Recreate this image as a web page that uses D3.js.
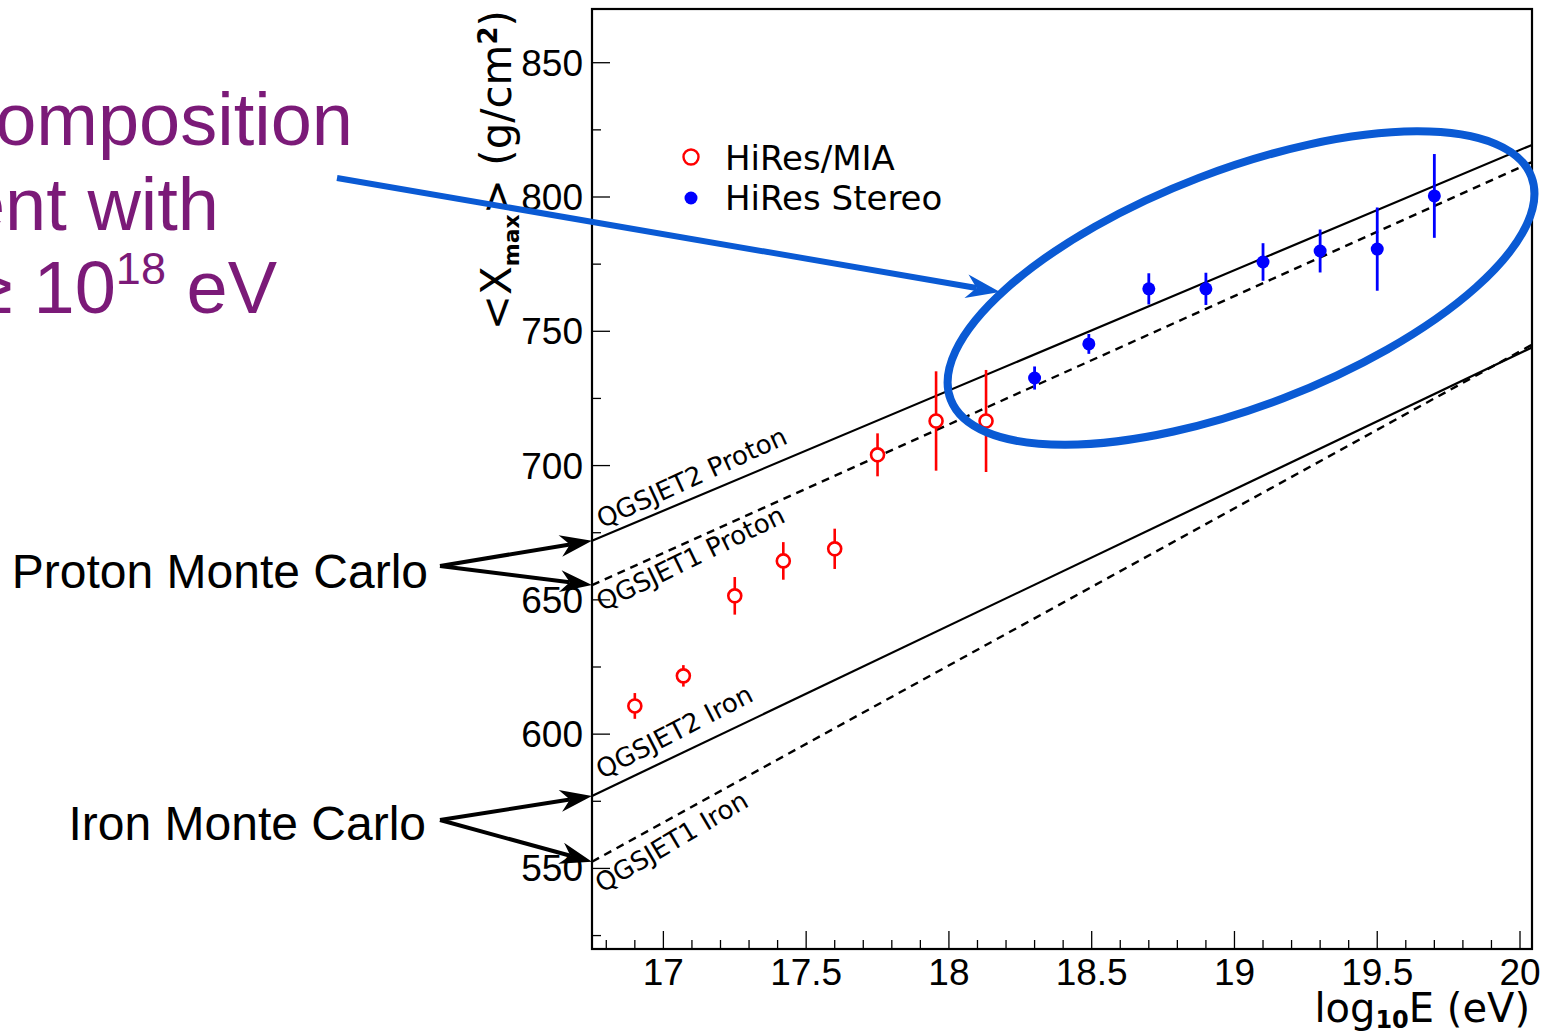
<!DOCTYPE html>
<html>
<head>
<meta charset="utf-8">
<script src="https://cdn.jsdelivr.net/npm/d3@7"></script>
<style>
  html, body { margin: 0; padding: 0; background: #fff; overflow: hidden; }
  svg { display: block; }
  .tick-label { font-family: "Liberation Sans", Arial, sans-serif; font-size: 37px; fill: #000; }
  .title { font-family: "DejaVu Sans", sans-serif; fill: #000; }
  .note { font-family: "Liberation Sans", Arial, sans-serif; }
</style>
</head>
<body>
<svg id="chart" width="1541" height="1035"></svg>
<script>
// HiRes/MIA (open red circles)
const miaLogE = [16.90, 17.07, 17.25, 17.42, 17.60, 17.75, 17.955, 18.13];
const miaXmax = [610.5, 621.7, 651.5, 664.5, 669.0, 704.0, 716.6, 716.6];
const miaErr  = [4.8, 4.0, 7.0, 7.0, 7.5, 8.0, 18.5, 19.0];

// HiRes Stereo (filled blue circles)
const stereoLogE = [18.30, 18.49, 18.70, 18.90, 19.10, 19.30, 19.50, 19.70];
const stereoXmax = [732.6, 745.3, 765.8, 765.8, 775.8, 779.9, 780.6, 800.4];
const stereoErr  = [4.3, 3.7, 5.8, 6.0, 7.0, 8.0, 15.5, 15.6];

// Monte Carlo predictions, values at the two ends of the x range
const modelNames = ['QGSJET2 Proton', 'QGSJET1 Proton', 'QGSJET2 Iron', 'QGSJET1 Iron'];
const modelEnds  = [16.75, 20.042];
const modelXmax  = [[672.0, 819.4], [655.5, 813.0], [577.0, 744.0], [552.5, 745.0]];
const modelDash  = [false, true, false, true];

const xTickValues = [17, 17.5, 18, 18.5, 19, 19.5, 20];
const yTickValues = [550, 600, 650, 700, 750, 800, 850];

const svg = d3.select('#chart');
const frame = { left: 592, right: 1532, top: 9, bottom: 949 };

const x = d3.scaleLinear().domain([16.75, 20.042]).range([frame.left, frame.right]);
const y = d3.scaleLinear().domain([520, 870]).range([frame.bottom, frame.top]);

// frame
svg.append('rect')
  .attr('x', frame.left).attr('y', frame.top)
  .attr('width', frame.right - frame.left).attr('height', frame.bottom - frame.top)
  .attr('fill', 'none').attr('stroke', '#000').attr('stroke-width', 2.2);

// ROOT-style inward ticks
const xMinor = d3.range(16.8, 20.04, 0.1).map(v => +v.toFixed(1));
svg.append('g').selectAll('line').data(xMinor).join('line')
  .attr('x1', d => x(d)).attr('x2', d => x(d))
  .attr('y1', frame.bottom)
  .attr('y2', d => frame.bottom - (xTickValues.includes(d) ? 18 : 9))
  .attr('stroke', '#000').attr('stroke-width', 1.3);

const yMinor = d3.range(525, 870, 25);
svg.append('g').selectAll('line').data(yMinor).join('line')
  .attr('y1', d => y(d)).attr('y2', d => y(d))
  .attr('x1', frame.left)
  .attr('x2', d => frame.left + (yTickValues.includes(d) ? 18 : 9))
  .attr('stroke', '#000').attr('stroke-width', 1.3);

svg.append('g').selectAll('text').data(xTickValues).join('text')
  .attr('class', 'tick-label')
  .attr('x', d => x(d)).attr('y', 985)
  .attr('text-anchor', 'middle')
  .text(d => d3.format('')(d));

svg.append('g').selectAll('text').data(yTickValues).join('text')
  .attr('class', 'tick-label')
  .attr('x', 583).attr('y', d => y(d) + 13)
  .attr('text-anchor', 'end')
  .text(d => d);

// axis titles
const xTitle = svg.append('text').attr('class', 'title')
  .attr('x', 1530).attr('y', 1022).attr('text-anchor', 'end').attr('font-size', 40);
xTitle.append('tspan').text('log');
xTitle.append('tspan').attr('font-size', 24).attr('dy', 6).attr('font-weight', 'bold').text('10');
xTitle.append('tspan').attr('dy', -6).text('E (eV)');

const yTitle = svg.append('text').attr('class', 'title')
  .attr('transform', 'translate(511,10) rotate(-90)')
  .attr('text-anchor', 'end').attr('font-size', 42);
yTitle.append('tspan').text('<X');
yTitle.append('tspan').attr('font-size', 22).attr('dy', 8).attr('font-weight', 'bold').text('max');
yTitle.append('tspan').attr('dy', -8).text('> (g/cm');
yTitle.append('tspan').attr('font-size', 26).attr('dy', -14).attr('font-weight', 'bold').text('2');
yTitle.append('tspan').attr('dy', 14).text(')');

// model lines
const plot = svg.append('g');
const line = d3.line().x(d => x(d[0])).y(d => y(d[1]));
modelNames.forEach((name, i) => {
  const pts = modelEnds.map((e, k) => [e, modelXmax[i][k]]);
  plot.append('path')
    .attr('d', line(pts))
    .attr('fill', 'none').attr('stroke', '#000')
    .attr('stroke-width', modelDash[i] ? 2.4 : 2.2)
    .attr('stroke-dasharray', modelDash[i] ? '8,6' : null);
});

// labels along the model lines
const labelOffset = [-8, 31, -12, 37];
modelNames.forEach((name, i) => {
  const v = d3.scaleLinear().domain(modelEnds).range(modelXmax[i]);
  const px = 602;
  const py = y(v(x.invert(px))) + labelOffset[i];
  const ang = Math.atan2(y(modelXmax[i][1]) - y(modelXmax[i][0]), x(modelEnds[1]) - x(modelEnds[0])) * 180 / Math.PI - 1.8;
  plot.append('text').attr('class', 'title')
    .attr('font-size', 26)
    .attr('transform', `translate(${px},${py}) rotate(${ang})`)
    .text(name);
});

// HiRes/MIA
const mia = miaLogE.map((e, i) => ({ e, v: miaXmax[i], err: miaErr[i] }));
plot.append('g').selectAll('line').data(mia).join('line')
  .attr('x1', d => x(d.e)).attr('x2', d => x(d.e))
  .attr('y1', d => y(d.v - d.err)).attr('y2', d => y(d.v + d.err))
  .attr('stroke', '#f00').attr('stroke-width', 2.6);
plot.append('g').selectAll('circle').data(mia).join('circle')
  .attr('cx', d => x(d.e)).attr('cy', d => y(d.v)).attr('r', 6.5)
  .attr('fill', '#fff').attr('stroke', '#f00').attr('stroke-width', 2.6);

// HiRes Stereo
const stereo = stereoLogE.map((e, i) => ({ e, v: stereoXmax[i], err: stereoErr[i] }));
plot.append('g').selectAll('line').data(stereo).join('line')
  .attr('x1', d => x(d.e)).attr('x2', d => x(d.e))
  .attr('y1', d => y(d.v - d.err)).attr('y2', d => y(d.v + d.err))
  .attr('stroke', '#00f').attr('stroke-width', 2.8);
plot.append('g').selectAll('circle').data(stereo).join('circle')
  .attr('cx', d => x(d.e)).attr('cy', d => y(d.v)).attr('r', 6.5)
  .attr('fill', '#00f');

// legend
const legend = svg.append('g');
legend.append('circle').attr('cx', 691).attr('cy', 157).attr('r', 7.5)
  .attr('fill', '#fff').attr('stroke', '#f00').attr('stroke-width', 2.4);
legend.append('circle').attr('cx', 691).attr('cy', 198).attr('r', 6.5).attr('fill', '#00f');
legend.append('text').attr('class', 'title').attr('font-size', 34)
  .attr('x', 725).attr('y', 170).text('HiRes/MIA');
legend.append('text').attr('class', 'title').attr('font-size', 34)
  .attr('x', 725).attr('y', 210).text('HiRes Stereo');

// ---- slide annotations ----
const arrow = (g, x1, y1, x2, y2, color, width, len, half) => {
  const a = Math.atan2(y2 - y1, x2 - x1);
  const bx = x2 - len * Math.cos(a), by = y2 - len * Math.sin(a);
  const nx = x2 - len * 0.7 * Math.cos(a), ny = y2 - len * 0.7 * Math.sin(a);
  const px = -Math.sin(a) * half, py = Math.cos(a) * half;
  g.append('line').attr('x1', x1).attr('y1', y1).attr('x2', nx).attr('y2', ny)
    .attr('stroke', color).attr('stroke-width', width);
  g.append('path')
    .attr('d', `M${x2},${y2}L${bx + px},${by + py}L${nx},${ny}L${bx - px},${by - py}Z`)
    .attr('fill', color);
};

const notes = svg.append('g');
const purple = '#7b1a78';
[['Composition', 353, 145], ['consistent with', 219, 230]].forEach(([t, tx, ty]) => {
  notes.append('text').attr('class', 'note').attr('font-size', 74).attr('fill', purple)
    .attr('x', tx).attr('y', ty).attr('text-anchor', 'end').text(t);
});
const l3 = notes.append('text').attr('class', 'note').attr('font-size', 74).attr('fill', purple)
  .attr('x', 277).attr('y', 313).attr('text-anchor', 'end');
l3.append('tspan').text('E \u2265 10');
l3.append('tspan').attr('font-size', 45).attr('dy', -29).text('18');
l3.append('tspan').attr('dy', 29).text(' eV');

notes.append('text').attr('class', 'note').attr('font-size', 48)
  .attr('x', 428).attr('y', 588).attr('text-anchor', 'end').text('Proton Monte Carlo');
notes.append('text').attr('class', 'note').attr('font-size', 48)
  .attr('x', 426).attr('y', 840).attr('text-anchor', 'end').text('Iron Monte Carlo');

arrow(notes, 440, 566, x(modelEnds[0]), y(modelXmax[0][0]), '#000', 4, 32, 11);
arrow(notes, 440, 566, x(modelEnds[0]), y(modelXmax[1][0]), '#000', 4, 32, 11);
arrow(notes, 440, 820, x(modelEnds[0]), y(modelXmax[2][0]), '#000', 4, 32, 11);
arrow(notes, 440, 820, x(modelEnds[0]), y(modelXmax[3][0]), '#000', 4, 32, 11);

const blue = '#0a5ad4';
notes.append('ellipse')
  .attr('transform', `translate(${x(19.023)},${y(766.1)}) rotate(-21)`)
  .attr('rx', 311).attr('ry', 118)
  .attr('fill', 'none').attr('stroke', blue).attr('stroke-width', 8);
arrow(notes, 337, 178, 1000, 292, blue, 6, 34, 12);
</script>
</body>
</html>
